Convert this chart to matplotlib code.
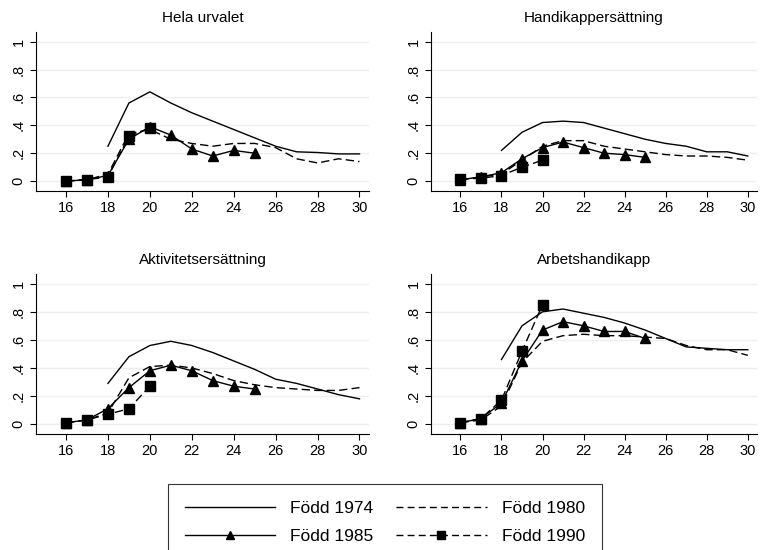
import matplotlib
matplotlib.use('Agg')
import matplotlib.pyplot as plt
from matplotlib.lines import Line2D

plt.rcParams['font.family'] = ['Liberation Sans', 'DejaVu Sans']

ages_1974 = list(range(18, 31))
ages_1980 = list(range(16, 31))
ages_1985 = list(range(16, 26))
ages_1990 = list(range(16, 21))

panels = ['Hela urvalet', 'Handikappersättning', 'Aktivitetsersättning', 'Arbetshandikapp']

f1974 = {
    'Hela urvalet': [0.25, 0.56, 0.64, 0.56, 0.49, 0.43, 0.37, 0.31, 0.25, 0.21, 0.205, 0.195, 0.195],
    'Handikappersättning': [0.22, 0.35, 0.42, 0.43, 0.42, 0.38, 0.34, 0.30, 0.27, 0.25, 0.21, 0.21, 0.18],
    'Aktivitetsersättning': [0.29, 0.48, 0.56, 0.59, 0.56, 0.51, 0.45, 0.39, 0.32, 0.29, 0.25, 0.21, 0.18],
    'Arbetshandikapp': [0.46, 0.70, 0.80, 0.82, 0.79, 0.76, 0.72, 0.67, 0.61, 0.55, 0.54, 0.53, 0.53],
}
f1980 = {
    'Hela urvalet': [0.0, 0.01, 0.05, 0.34, 0.37, 0.30, 0.27, 0.25, 0.27, 0.27, 0.24, 0.16, 0.13, 0.16, 0.14],
    'Handikappersättning': [0.01, 0.03, 0.05, 0.15, 0.25, 0.29, 0.29, 0.25, 0.23, 0.21, 0.19, 0.18, 0.18, 0.17, 0.15],
    'Aktivitetsersättning': [0.01, 0.03, 0.08, 0.33, 0.41, 0.42, 0.40, 0.36, 0.31, 0.28, 0.26, 0.25, 0.24, 0.24, 0.26],
    'Arbetshandikapp': [0.01, 0.03, 0.13, 0.44, 0.59, 0.63, 0.64, 0.63, 0.63, 0.62, 0.61, 0.56, 0.53, 0.53, 0.49],
}
f1985 = {
    'Hela urvalet': [0.0, 0.01, 0.04, 0.30, 0.39, 0.33, 0.23, 0.18, 0.22, 0.20],
    'Handikappersättning': [0.01, 0.03, 0.06, 0.16, 0.24, 0.28, 0.24, 0.20, 0.19, 0.17],
    'Aktivitetsersättning': [0.01, 0.03, 0.11, 0.26, 0.38, 0.42, 0.38, 0.31, 0.27, 0.25],
    'Arbetshandikapp': [0.01, 0.04, 0.15, 0.45, 0.67, 0.73, 0.70, 0.66, 0.66, 0.61],
}
f1990 = {
    'Hela urvalet': [0.0, 0.01, 0.03, 0.32, 0.38],
    'Handikappersättning': [0.015, 0.02, 0.04, 0.10, 0.15],
    'Aktivitetsersättning': [0.01, 0.03, 0.07, 0.11, 0.27],
    'Arbetshandikapp': [0.01, 0.04, 0.17, 0.52, 0.85],
}

fig = plt.figure(figsize=(7.67, 5.5), dpi=100)
positions = [
    [0.047, 0.653, 0.434, 0.289],
    [0.562, 0.653, 0.425, 0.289],
    [0.047, 0.211, 0.434, 0.291],
    [0.562, 0.211, 0.425, 0.291],
]
dash = (0, (6, 3))

for name, pos in zip(panels, positions):
    ax = fig.add_axes(pos)
    ax.plot(ages_1974, f1974[name], color='black', lw=1)
    ax.plot(ages_1980, f1980[name], color='black', lw=1, linestyle=dash)
    ax.plot(ages_1985, f1985[name], color='black', lw=1, marker='^', markersize=7.5)
    ax.plot(ages_1990, f1990[name], color='black', lw=1, linestyle=dash, marker='s', markersize=7.5)
    ax.set_xlim(14.57, 30.45)
    ax.set_ylim(-0.07, 1.07)
    ax.set_xticks(range(16, 31, 2))
    ax.set_yticks([0, 0.2, 0.4, 0.6, 0.8, 1])
    ax.set_yticklabels(['0', '.2', '.4', '.6', '.8', '1'], rotation=90, va='center')
    ax.yaxis.grid(True, color='#eeeeee', lw=1)
    ax.set_axisbelow(True)
    ax.spines['top'].set_visible(False)
    ax.spines['right'].set_visible(False)
    ax.tick_params(labelsize=10.5, length=4, width=0.8)
    ax.set_title(name, fontsize=11, pad=7)

handles = [
    Line2D([], [], color='black', lw=1),
    Line2D([], [], color='black', lw=1, marker='^', markersize=6),
    Line2D([], [], color='black', lw=1, linestyle=(0, (5, 3))),
    Line2D([], [], color='black', lw=1, linestyle=(0, (5, 3)), marker='s', markersize=6),
]
labels = ['Född 1974', 'Född 1985', 'Född 1980', 'Född 1990']
leg = fig.legend(handles, labels, ncol=2, loc='upper center', bbox_to_anchor=(0.502, 0.12),
                 frameon=True, fancybox=False, edgecolor='black', fontsize=12.5,
                 handlelength=5.2, numpoints=1, columnspacing=1.3, labelspacing=0.75,
                 borderpad=0.95, handletextpad=0.9, borderaxespad=0)
leg.get_frame().set_linewidth(0.8)

fig.savefig('out.png', dpi=100)
